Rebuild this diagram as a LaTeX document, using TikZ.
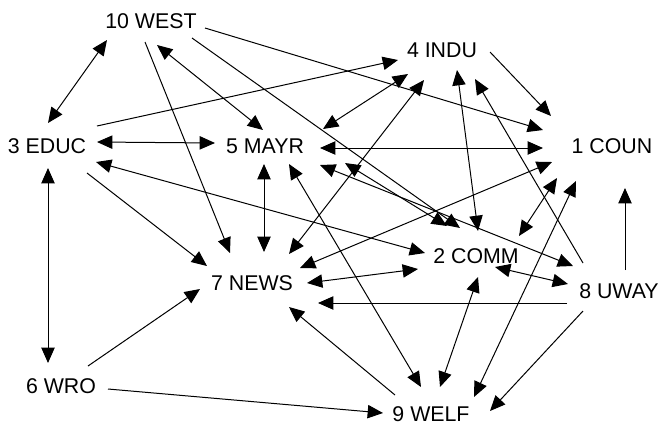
\documentclass[tikz,border=0pt]{standalone}
\usepackage{fontspec}
\setmainfont{Liberation Sans}
\usetikzlibrary{arrows.meta,calc}
\tikzset{
  lbl/.style={inner sep=0pt, font=\fontsize{16}{19}\selectfont},
  con/.style={line width=0.75pt, black},
  tip/.tip={Triangle[length=11.5pt,width=10pt]},
  one/.style={con, -tip},
  two/.style={con, tip-tip},
}
\begin{document}
\begin{tikzpicture}[x=0.75pt,y=-0.75pt]
\useasboundingbox (0,0) rectangle (660,426);
\node[lbl] (W) at (151,21) {10 WEST};
\node[lbl] (I) at (442,50) {4 INDU};
\node[lbl] (E) at (47,146) {3 EDUC};
\node[lbl] (M) at (265,146) {5 MAYR};
\node[lbl] (C) at (612,146) {1 COUN};
\node[lbl] (N) at (252,283) {7 NEWS};
\node[lbl] (K) at (476,256) {2 COMM};
\node[lbl] (U) at (619,291) {8 UWAY};
\node[lbl] (R) at (61,386) {6 WRO};
\node[lbl] (F) at (431,414) {9 WELF};
% 10 WEST
\draw[two] ($(W)+(-44,19)$) -- ($(E)+(1,-23)$);
\draw[one] ($(W)+(-6,21)$) -- ($(N)+(-22,-30)$);
\draw[two] ($(W)+(6,24)$) -- ($(M)+(-2,-16)$);
\draw[one] ($(W)+(41,17)$) -- ($(K)+(-16,-28)$);
\draw[one] ($(W)+(54,7)$) -- ($(C)+(-69,-16)$);
% 4 INDU
\draw[one] ($(E)+(50,-20)$) -- ($(I)+(-44,10)$);
\draw[two] ($(I)+(-34,24)$) -- ($(M)+(58,-17)$);
\draw[two] ($(I)+(-18,30)$) -- ($(N)+(37,-29)$);
\draw[two] ($(I)+(15,20)$) -- ($(K)+(2,-25)$);
\draw[one] ($(U)+(-36,-28)$) -- ($(I)+(33,29)$);
\draw[one] ($(I)+(48,2)$) -- ($(C)+(-61,-30)$);
% 3 EDUC
\draw[two] ($(E)+(50,-4)$) -- ($(M)+(-50,-3)$);
\draw[two] ($(E)+(49,16)$) -- ($(K)+(-51,-3)$);
\draw[one] ($(E)+(40,27)$) -- ($(N)+(-45,-17)$);
\draw[two] ($(E)+(1,22)$) -- ($(R)+(-13,-23)$);
% 5 MAYR
\draw[two] ($(M)+(55,2)$) -- ($(C)+(-69,2)$);
\draw[two] ($(M)+(-1,18)$) -- ($(N)+(12,-31)$);
\draw[two] ($(M)+(24,18)$) -- ($(F)+(-10,-27)$);
\draw[two] ($(M)+(55,19)$) -- ($(U)+(-46,-25)$);
\draw[two] ($(M)+(80,17)$) -- ($(K)+(-29,-30)$);
% 1 COUN
\draw[two] ($(C)+(-60,16)$) -- ($(N)+(48,-15)$);
\draw[two] ($(C)+(-55,32)$) -- ($(K)+(43,-20)$);
\draw[two] ($(C)+(-36,35)$) -- ($(F)+(43,-17)$);
\draw[one] ($(U)+(6,-21)$) -- ($(C)+(13,42)$);
% 7 NEWS
\draw[two] ($(N)+(55,0)$) -- ($(K)+(-58,13)$);
\draw[one] ($(U)+(-52,12)$) -- ($(N)+(66,20)$);
\draw[one] ($(F)+(-36,-19)$) -- ($(N)+(37,24)$);
\draw[one] ($(R)+(27,-20)$) -- ($(N)+(-52,6)$);
% 2 COMM, 8 UWAY, 6 WRO
\draw[two] ($(K)+(19,11)$) -- ($(U)+(-51,-7)$);
\draw[two] ($(K)+(2,21)$) -- ($(F)+(9,-27)$);
\draw[one] ($(U)+(-36,20)$) -- ($(F)+(59,-3)$);
\draw[one] ($(R)+(47,3)$) -- ($(F)+(-48,-1)$);
\end{tikzpicture}
\end{document}
